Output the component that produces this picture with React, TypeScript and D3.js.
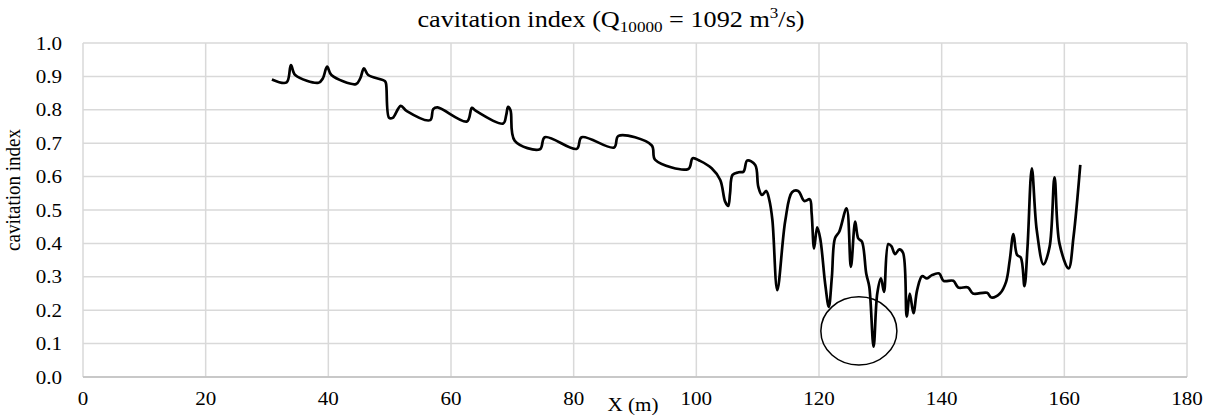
import React from "react";
import * as d3 from "d3";

const xValues = [
  30.8, 33.2, 33.9, 34.6, 38.4, 39.1, 39.8, 40.5, 44.5, 45.2, 45.8, 46.5, 49.2, 49.4, 49.9, 50.5,
  51.8, 52.8, 56.6, 57.1, 57.8, 62.6, 63.4, 63.9, 68.5, 69.0, 69.3, 69.7, 70.4, 74.5, 75.3, 80.5,
  81.3, 86.6, 87.3, 92.7, 93.3, 98.7, 99.4, 100.6, 102.5, 103.9, 104.7, 105.2, 105.5, 105.9, 106.9,
  107.7, 108.3, 109.6, 110.1, 110.7, 111.4, 111.9, 112.4, 113.2, 114.5, 115.6, 116.6, 117.6, 118.5,
  118.8, 119.2, 119.7, 120.2, 121.0, 121.6, 122.1, 122.6, 123.3, 124.5, 125.2, 125.9, 126.4, 127.0,
  127.7, 128.2, 128.9, 129.5, 130.1, 130.6, 131.3, 131.8, 132.4, 133.1, 133.7, 134.3, 134.8, 135.4,
  136.0, 136.8, 137.6, 138.4, 139.6, 140.3, 141.9, 142.7, 144.3, 145.1, 147.4, 148.1, 149.5, 150.5,
  151.1, 151.7, 152.3, 152.9, 153.5, 154.0, 154.7, 155.5, 156.6, 157.6, 158.4, 159.2, 160.7, 161.5,
  162.6,
];
const cavitationIndex = [
  0.891, 0.882, 0.934, 0.904, 0.881, 0.894, 0.929, 0.904, 0.877, 0.894, 0.924, 0.904, 0.886, 0.879,
  0.776, 0.776, 0.812, 0.796, 0.769, 0.802, 0.807, 0.765, 0.806, 0.799, 0.759, 0.784, 0.809, 0.799,
  0.707, 0.682, 0.718, 0.683, 0.718, 0.687, 0.722, 0.694, 0.65, 0.623, 0.655, 0.647, 0.625, 0.59,
  0.525, 0.512, 0.55, 0.605, 0.613, 0.615, 0.648, 0.635, 0.57, 0.545, 0.557, 0.53, 0.47, 0.26, 0.468,
  0.553, 0.557, 0.527, 0.532, 0.49, 0.385, 0.448, 0.415, 0.28, 0.21, 0.3, 0.415, 0.435, 0.505, 0.33,
  0.465, 0.415, 0.405, 0.31, 0.27, 0.091, 0.25, 0.295, 0.255, 0.398, 0.392, 0.368, 0.382, 0.372,
  0.181, 0.25, 0.191, 0.26, 0.302, 0.295, 0.305, 0.31, 0.288, 0.288, 0.268, 0.268, 0.25, 0.252,
  0.238, 0.25, 0.285, 0.35, 0.428, 0.365, 0.358, 0.272, 0.39, 0.625, 0.44, 0.337, 0.39, 0.598, 0.4,
  0.325, 0.42, 0.635,
];
const xTicks = [0, 20, 40, 60, 80, 100, 120, 140, 160, 180];
const yTicks = [0, 0.1, 0.2, 0.3, 0.4, 0.5, 0.6, 0.7, 0.8, 0.9, 1.0];
// highlighted ellipse: centre (x, y) and radii in data units
const ellipseCenter = [126.5, 0.138];
const ellipseRadii = [6.2, 0.102];

const W = 1211;
const H = 417;
const SX = 1.14; // horizontal stretch of glyphs in the reference
const font = "'Liberation Serif', 'Times New Roman', serif";

export default function App() {
  const x = d3.scaleLinear().domain([0, 180]).range([83, 1187]);
  const y = d3.scaleLinear().domain([0, 1]).range([377, 43]);
  const pts: [number, number][] = xValues.map((v, i) => [v, cavitationIndex[i]]);
  const line = d3
    .line<[number, number]>()
    .x((d) => x(d[0]))
    .y((d) => y(d[1]))
    .curve(d3.curveCatmullRom.alpha(0.5));

  const cx = x(ellipseCenter[0]);
  const cy = y(ellipseCenter[1]);
  const rx = x(ellipseCenter[0] + ellipseRadii[0]) - cx;
  const ry = cy - y(ellipseCenter[1] + ellipseRadii[1]);

  return (
    <svg
      width={W}
      height={H}
      style={{ position: "absolute", left: 0, top: 0, background: "#fff" }}
      fontFamily={font}
    >
      <rect width={W} height={H} fill="#fff" />
      {/* grid */}
      {yTicks.map((t) => (
        <line key={"gy" + t} x1={x(0)} x2={x(180)} y1={y(t)} y2={y(t)} stroke="#d9d9d9" strokeWidth={1.5} />
      ))}
      {xTicks.map((t) => (
        <line key={"gx" + t} x1={x(t)} x2={x(t)} y1={y(0)} y2={y(1)} stroke="#d9d9d9" strokeWidth={1.5} />
      ))}
      <line x1={x(0)} x2={x(180)} y1={y(0)} y2={y(0)} stroke="#bfbfbf" strokeWidth={1.5} />

      {/* y tick labels */}
      {yTicks.map((t) => (
        <text
          key={"ly" + t}
          transform={`translate(62,${y(t) + 6.5}) scale(${SX},1)`}
          textAnchor="end"
          fontSize={18.5}
          fill="#000"
        >
          {t.toFixed(1)}
        </text>
      ))}
      {/* x tick labels */}
      {xTicks.map((t) => (
        <text
          key={"lx" + t}
          transform={`translate(${x(t)},404.5) scale(${SX},1)`}
          textAnchor="middle"
          fontSize={18.5}
          fill="#000"
        >
          {t}
        </text>
      ))}

      {/* data line */}
      <path d={line(pts) || ""} fill="none" stroke="#000" strokeWidth={2.7} strokeLinejoin="round" />

      {/* ellipse */}
      <ellipse cx={cx} cy={cy} rx={rx} ry={ry} fill="none" stroke="#000" strokeWidth={1.5} />

      {/* titles */}
      <text transform={`translate(611,26.5) scale(${SX},1)`} textAnchor="middle" fontSize={23} fill="#000">
        cavitation index (Q
        <tspan fontSize={15} dy={5}>10000</tspan>
        <tspan dy={-5}> = 1092 m</tspan>
        <tspan fontSize={15} dy={-9}>3</tspan>
        <tspan dy={9}>/s)</tspan>
      </text>
      <text
        transform={`translate(20,190) scale(${SX},1) rotate(-90)`}
        textAnchor="middle"
        fontSize={19}
        fill="#000"
      >
        cavitation index
      </text>
      <text transform={`translate(633,410.5) scale(${SX},1)`} textAnchor="middle" fontSize={18.5} fill="#000">
        X (m)
      </text>
    </svg>
  );
}
